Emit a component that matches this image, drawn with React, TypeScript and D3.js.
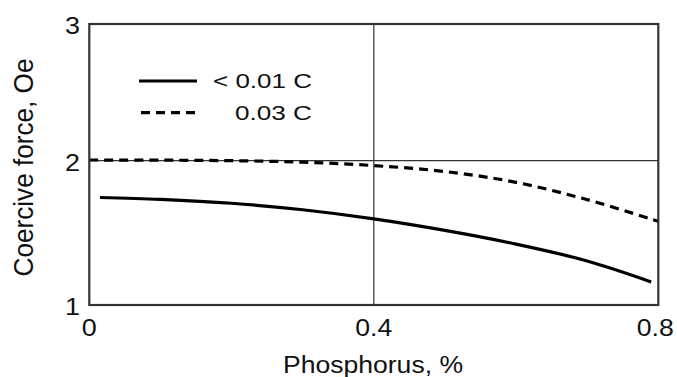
import React from "react";
import * as d3 from "d3";

const solidX = [0.015, 0.1, 0.2, 0.3, 0.4, 0.5, 0.6, 0.7, 0.79];
const solidY = [1.745, 1.732, 1.705, 1.66, 1.597, 1.517, 1.422, 1.305, 1.16];
const dashedX = [0, 0.1, 0.2, 0.3, 0.4, 0.5, 0.6, 0.7, 0.8];
const dashedY = [2.005, 2.004, 2.0, 1.99, 1.966, 1.925, 1.85, 1.73, 1.58];
const xTicks = [0, 0.4, 0.8];
const xTickLabels = ["0", "0.4", "0.8"];
const yTicks = [1, 2, 3];
const yTickLabels = ["1", "2", "3"];
const legendLabels = ["< 0.01 C", "0.03 C"];
const xTitle = "Phosphorus, %";
const yTitle = "Coercive force, Oe";

const W = 677;
const H = 377;
const FONT = "'Liberation Sans', Arial, Helvetica, sans-serif";

export default function App() {
  const x = d3.scaleLinear().domain([0, 0.8]).range([89.3, 658.3]);
  const y = d3.scaleLinear().domain([1, 2, 3]).range([305, 160.7, 24]);
  const line = d3
    .line<[number, number]>()
    .x((d) => x(d[0]))
    .y((d) => y(d[1]))
    .curve(d3.curveCatmullRom.alpha(0.5));
  const solid = solidX.map((v, i) => [v, solidY[i]] as [number, number]);
  const dashed = dashedX.map((v, i) => [v, dashedY[i]] as [number, number]);
  const xTickW = [15, 37, 37];
  const xTickDx = [0, 0, -3];

  return (
    <svg
      width={W}
      height={H}
      style={{ position: "absolute", left: 0, top: 0, background: "#fff" }}
      fontFamily={FONT}
    >
      <rect x={0} y={0} width={W} height={H} fill="#fff" />
      {/* grid */}
      <line x1={x(0)} x2={x(0.8)} y1={y(2)} y2={y(2)} stroke="#333" strokeWidth={1.2} />
      <line x1={x(0.4)} x2={x(0.4)} y1={y(3)} y2={y(1)} stroke="#333" strokeWidth={1.2} />
      {/* curves */}
      <path d={line(solid) || ""} fill="none" stroke="#000" strokeWidth={3.2} />
      <path d={line(dashed) || ""} fill="none" stroke="#000" strokeWidth={3.2} strokeDasharray="9,6" />
      {/* frame */}
      <rect
        x={x(0)}
        y={y(3)}
        width={x(0.8) - x(0)}
        height={y(1) - y(3)}
        fill="none"
        stroke="#333"
        strokeWidth={2.2}
      />
      {/* y ticks */}
      {yTicks.map((t, i) => (
        <text
          key={"y" + i}
          x={80}
          y={y(t) + 10}
          textAnchor="end"
          fontSize={23}
          textLength={15}
          lengthAdjust="spacingAndGlyphs"
          fill="#111"
        >
          {yTickLabels[i]}
        </text>
      ))}
      {/* x ticks */}
      {xTicks.map((t, i) => (
        <text
          key={"x" + i}
          x={x(t) + xTickDx[i]}
          y={336}
          textAnchor="middle"
          fontSize={23}
          textLength={xTickW[i]}
          lengthAdjust="spacingAndGlyphs"
          fill="#111"
        >
          {xTickLabels[i]}
        </text>
      ))}
      {/* x title */}
      <text
        x={373}
        y={373}
        textAnchor="middle"
        fontSize={23}
        textLength={180}
        lengthAdjust="spacingAndGlyphs"
        fill="#111"
      >
        {xTitle}
      </text>
      {/* y title */}
      <g transform="translate(33,167.5) scale(1.2,1) rotate(-90)">
        <text
          x={0}
          y={0}
          textAnchor="middle"
          fontSize={23}
          textLength={218}
          lengthAdjust="spacingAndGlyphs"
          fill="#111"
        >
          {yTitle}
        </text>
      </g>
      {/* legend */}
      <line x1={139} x2={197} y1={81} y2={81} stroke="#000" strokeWidth={3.2} />
      <line x1={141} x2={197} y1={112.7} y2={112.7} stroke="#000" strokeWidth={3.2} strokeDasharray="9,6" />
      <text x={213} y={88} fontSize={20.5} textLength={99} lengthAdjust="spacingAndGlyphs" fill="#111">
        {legendLabels[0]}
      </text>
      <text x={235} y={119.5} fontSize={20.5} textLength={77} lengthAdjust="spacingAndGlyphs" fill="#111">
        {legendLabels[1]}
      </text>
    </svg>
  );
}
